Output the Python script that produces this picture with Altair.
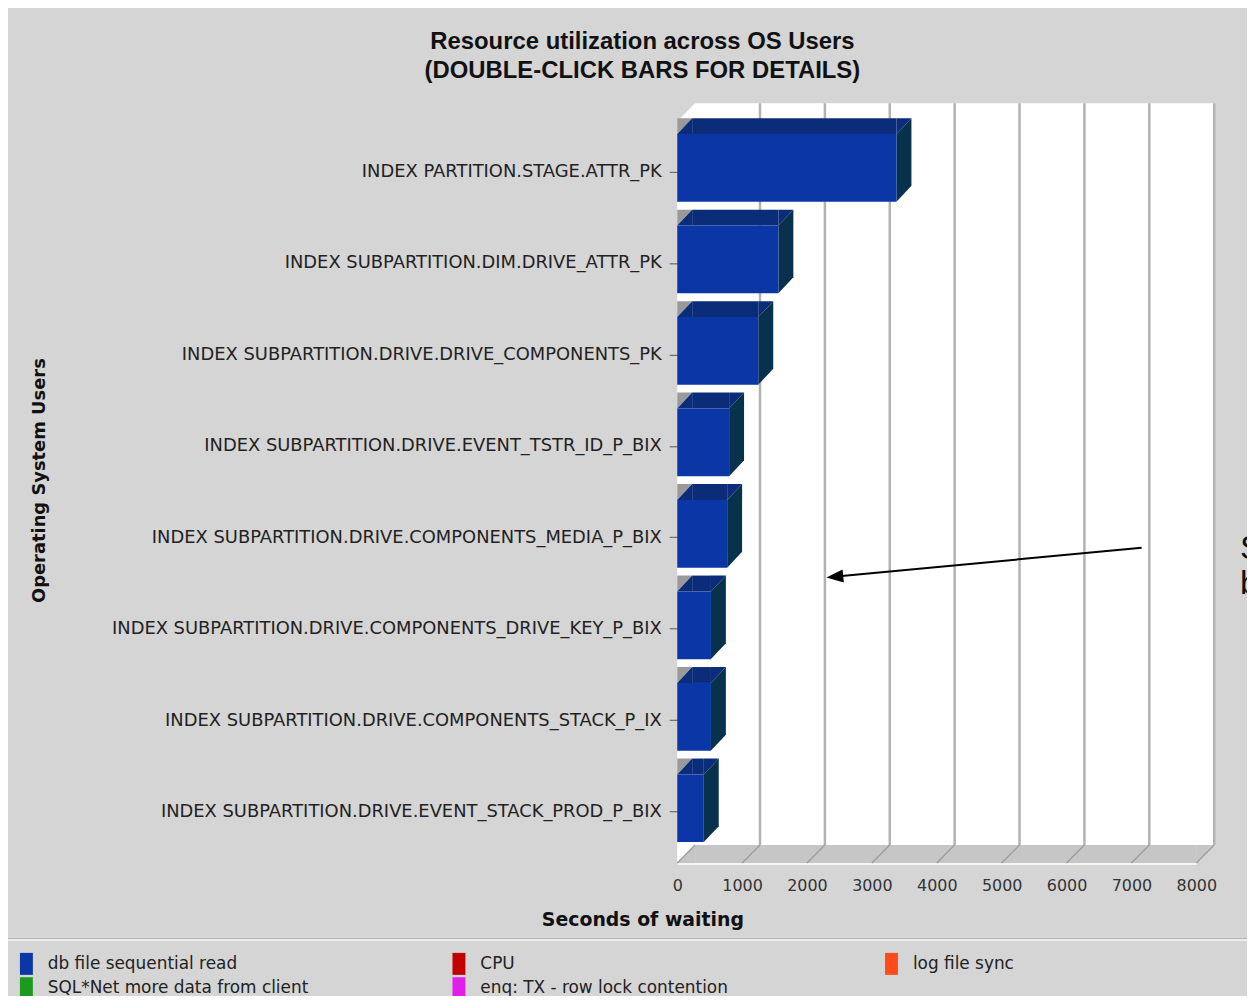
import altair as alt
import pandas as pd

# ---------------- data ----------------
categories = [
    "INDEX PARTITION.STAGE.ATTR_PK",
    "INDEX SUBPARTITION.DIM.DRIVE_ATTR_PK",
    "INDEX SUBPARTITION.DRIVE.DRIVE_COMPONENTS_PK",
    "INDEX SUBPARTITION.DRIVE.EVENT_TSTR_ID_P_BIX",
    "INDEX SUBPARTITION.DRIVE.COMPONENTS_MEDIA_P_BIX",
    "INDEX SUBPARTITION.DRIVE.COMPONENTS_DRIVE_KEY_P_BIX",
    "INDEX SUBPARTITION.DRIVE.COMPONENTS_STACK_P_IX",
    "INDEX SUBPARTITION.DRIVE.EVENT_STACK_PROD_P_BIX",
]
seconds_waiting = [3380, 1560, 1250, 800, 770, 520, 520, 410]
series_names = [
    "db file sequential read",
    "CPU",
    "log file sync",
    "SQL*Net more data from client",
    "enq: TX - row lock contention",
]
series_colors = ["#0a36a6", "#c20000", "#ff4a1a", "#1c9a1c", "#e020e8"]
x_ticks = [0, 1000, 2000, 3000, 4000, 5000, 6000, 7000, 8000]
chart_title = ["Resource utilization across OS Users", "(DOUBLE-CLICK BARS FOR DETAILS)"]
x_title = "Seconds of waiting"
y_title = "Operating System Users"
side_text = ["S", "b"]

# ---------------- layout / style ----------------
W, H = 522, 746          # front plane of the plot
DX, DY = 18, 18          # depth of walls
BDX, BDY = 15, 16        # depth of bars
HALF = 34                # half bar thickness
SHIFT = -4               # bars sit slightly above the tick
BG = "#d5d5d5"
FRONT = "#0a36a6"
TOP = "#0b2c78"
SIDE = "#08324c"
FLOOR = "#c6c6c6"
LABEL_FONT = "DejaVu Sans"
TITLE_FONT = "Liberation Sans"

bars = pd.DataFrame({
    "user": categories,
    "seconds": seconds_waiting,
    "zero": [0] * len(categories),
    "event": [series_names[0]] * len(categories),
})
walls = pd.DataFrame({"seconds": [0], "seconds_end": [x_ticks[-1]]})
right_corner = pd.DataFrame({"seconds": [x_ticks[-1]]})
grid_df = pd.DataFrame({"seconds": x_ticks[1:]})
tick_df = pd.DataFrame({"seconds": x_ticks})

xscale = alt.Scale(domain=[x_ticks[0], x_ticks[-1]], nice=False)
xaxis = alt.Axis(
    values=x_ticks, format="d", title=x_title, grid=False, ticks=False,
    domain=True, domainColor="#f4f4f4", domainWidth=3,
    labelFont=LABEL_FONT, labelFontSize=16, labelColor="#333333", labelPadding=15,
    labelFlush=False, labelOverlap=False,
    titleFont=LABEL_FONT, titleFontSize=19, titleFontWeight="bold", titleColor="#111111",
    titleX=-35, titleY=57, titleAlign="center", titleBaseline="middle", titleAngle=0,
)
yscale = alt.Scale(paddingInner=0.26, paddingOuter=0.1845)
yaxis = alt.Axis(
    title=y_title, grid=False, domain=False, ticks=True, tickSize=8, tickColor="#555555",
    labelFont=LABEL_FONT, labelFontSize=18, labelColor="#222222", labelPadding=8,
    labelLimit=800,
    titleFont=LABEL_FONT, titleFontSize=18, titleFontWeight="bold", titleColor="#111111",
    titleX=-641, titleY=361, titleAngle=270, titleAlign="center", titleBaseline="middle",
)


def X(field="seconds"):
    return alt.X(f"{field}:Q", scale=xscale, axis=xaxis)


def Y():
    return alt.Y("user:N", sort=categories, scale=yscale, axis=yaxis)


def tri(path, color, **kw):
    return dict(filled=True, shape=path, size=4, opacity=1, color=color, strokeWidth=0, **kw)


# back wall
back_wall = alt.Chart(walls).mark_rect(
    color="white", xOffset=DX, x2Offset=DX, yOffset=-DY, y2Offset=-DY
).encode(x=X(), x2=alt.X2("seconds_end"), y=alt.value(0), y2=alt.value(H))

top_left_white = alt.Chart(walls).mark_point(
    **tri(f"M0,0L{DX},-{DY}L{DX},0Z", "white")
).encode(x=X(), y=alt.value(0))

grid = alt.Chart(grid_df).mark_rule(color="#b2b2b2", strokeWidth=2.5, xOffset=DX).encode(
    x=X(), y=alt.value(-DY), y2=alt.value(H - DY)
)

floor = alt.Chart(walls).mark_rect(color=FLOOR, xOffset=DX).encode(
    x=X(), x2=alt.X2("seconds_end"), y=alt.value(H - DY), y2=alt.value(H)
)
floor_left = alt.Chart(walls).mark_point(
    **tri(f"M0,0L{DX},-{DY}L{DX},0Z", FLOOR)
).encode(x=X(), y=alt.value(H))
floor_right = alt.Chart(right_corner).mark_point(
    **tri(f"M0,0L0,-{DY}L{DX},-{DY}Z", FLOOR)
).encode(x=X(), y=alt.value(H))
floor_lines = alt.Chart(tick_df).mark_rule(color="#9c9c9c", strokeWidth=1.3, x2Offset=DX).encode(
    x=X(), x2=alt.X2("seconds"), y=alt.value(H), y2=alt.value(H - DY)
)

# 3D bars
grey_corner = alt.Chart(bars).mark_point(
    **tri(f"M0,-{HALF}L0,-{HALF + BDY}L{BDX},-{HALF + BDY}Z", "#9a9a9a", yOffset=SHIFT)
).encode(x=X("zero"), y=Y())
top_left = alt.Chart(bars).mark_point(
    **tri(f"M0,-{HALF}L{BDX},-{HALF + BDY}L{BDX},-{HALF}Z", TOP, yOffset=SHIFT)
).encode(x=X("zero"), y=Y())
top_mid = alt.Chart(bars).mark_rule(
    color=TOP, strokeWidth=BDY, xOffset=BDX, yOffset=-(HALF + BDY / 2) + SHIFT
).encode(x=X("zero"), x2=alt.X2("seconds"), y=Y())
side = alt.Chart(bars).mark_point(
    **tri(f"M0,-{HALF}L{BDX},-{HALF + BDY}L{BDX},{HALF - BDY}L0,{HALF}Z", SIDE, yOffset=SHIFT)
).encode(x=X(), y=Y())
top_right = alt.Chart(bars).mark_point(
    **tri(f"M0,-{HALF}L0,-{HALF + BDY}L{BDX},-{HALF + BDY}Z", TOP, yOffset=SHIFT)
).encode(x=X(), y=Y())

front = alt.Chart(bars).mark_bar(strokeWidth=0, opacity=1, yOffset=SHIFT, y2Offset=SHIFT).encode(
    x=X(),
    y=Y(),
    color=alt.Color(
        "event:N",
        scale=alt.Scale(domain=series_names, range=series_colors),
        legend=alt.Legend(
            orient="none", legendX=-667.5, legendY=834, direction="horizontal",
            columns=3, gridAlign="all", columnPadding=138, rowPadding=-2,
            symbolType="M-0.5,-0.85L0.5,-0.85L0.5,0.85L-0.5,0.85Z", symbolSize=676,
            symbolStrokeWidth=0, symbolOpacity=1,
            labelFont=LABEL_FONT, labelFontSize=17, labelColor="#222222",
            labelOffset=8.5, labelLimit=600, title=None, padding=0,
        ),
    ),
)

# annotation overlay (arrow + cut slide text)
one = pd.DataFrame({"k": [0]})
arrow_line = alt.Chart(one).mark_rule(color="black", strokeWidth=2).encode(
    x=alt.value(467), y=alt.value(429), x2=alt.value(160), y2=alt.value(458)
)
arrow_head = alt.Chart(one).mark_point(
    **tri("M0,0L17,-6.5L17,6.5Z", "black", angle=354.6)
).encode(x=alt.value(150), y=alt.value(459))

title_df = pd.DataFrame({"t": chart_title})
title1 = alt.Chart(title_df.iloc[[0]]).mark_text(
    font=TITLE_FONT, fontSize=24, fontWeight="bold", color="#111111", align="center", baseline="middle"
).encode(text="t:N", x=alt.value(-35), y=alt.value(-80))
title2 = alt.Chart(title_df.iloc[[1]]).mark_text(
    font=TITLE_FONT, fontSize=24, fontWeight="bold", color="#111111", align="center", baseline="middle"
).encode(text="t:N", x=alt.value(-35), y=alt.value(-50))

side_df = pd.DataFrame({"t": side_text})
side_s = alt.Chart(side_df.iloc[[0]]).mark_text(
    font="Liberation Sans", fontSize=34, color="#111111", align="left", baseline="alphabetic"
).encode(text="t:N", x=alt.value(566), y=alt.value(440))
side_b = alt.Chart(side_df.iloc[[1]]).mark_text(
    font="Liberation Sans", fontSize=34, color="#111111", align="left", baseline="alphabetic"
).encode(text="t:N", x=alt.value(566), y=alt.value(476))

sep_dark = alt.Chart(one).mark_rule(color="#b4b4b4", strokeWidth=1).encode(
    x=alt.value(-673), x2=alt.value(580), y=alt.value(822)
)
sep_light = alt.Chart(one).mark_rule(color="#f6f6f6", strokeWidth=1.5).encode(
    x=alt.value(-673), x2=alt.value(580), y=alt.value(823.5)
)

chart = alt.layer(
    back_wall, top_left_white, grid, floor, floor_left, floor_right, floor_lines,
    grey_corner, top_left, top_mid, side, top_right, front,
    arrow_line, arrow_head, title1, title2, side_s, side_b, sep_dark, sep_light,
).properties(
    width=W, height=H, autosize="none",
    padding={"left": 673, "top": 111, "right": 51, "bottom": 131},
    background=BG,
).configure_view(fill="white", stroke=None)

chart.save("out.html", embed_options={"renderer": "svg", "actions": False})
